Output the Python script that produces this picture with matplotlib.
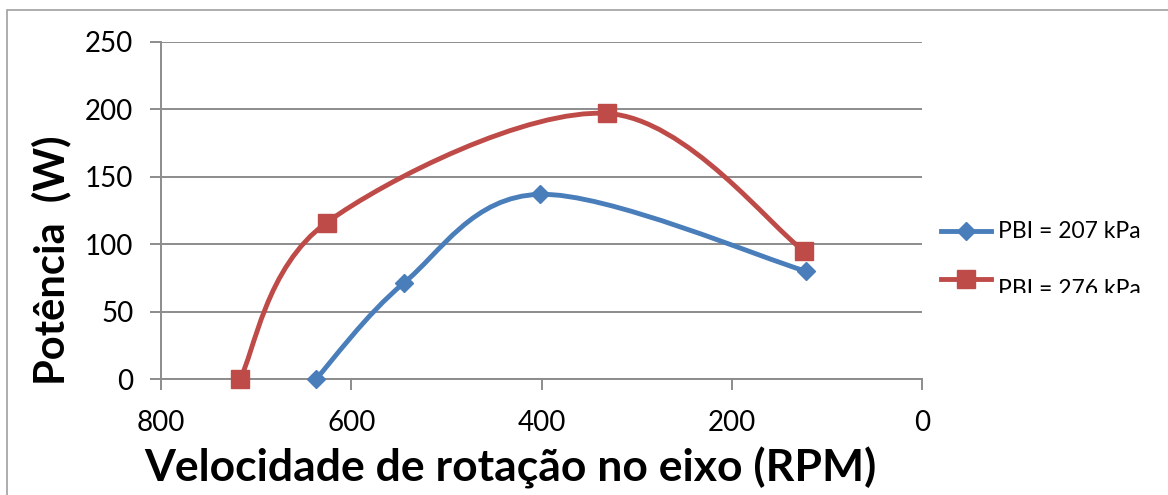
import matplotlib
matplotlib.use("Agg")
import matplotlib.pyplot as plt
import numpy as np
from matplotlib.lines import Line2D
from matplotlib.patches import PathPatch, Rectangle
from matplotlib.path import Path
from matplotlib.transforms import Bbox, TransformedBbox

# values
rpm_207 = [637, 545, 402, 122]
pow_207 = [0, 71, 137, 80]
rpm_276 = [717, 626, 331, 124]
pow_276 = [0, 116, 197, 95]

series_labels = ["PBI = 207 kPa", "PBI = 276 kPa"]
x_ticks = [800, 600, 400, 200, 0]
y_ticks = [0, 50, 100, 150, 200, 250]

BLUE = "#4a7ebb"
RED = "#be4b48"
GRID = "#8c8c8c"
FONT = "Lato"


def smooth_path(xs, ys):
    # Excel-like smoothed line: Catmull-Rom segments as cubic Beziers
    pts = np.column_stack([xs, ys]).astype(float)
    ext = np.vstack([pts[0], pts, pts[-1]])
    verts = [pts[0]]
    codes = [Path.MOVETO]
    for i in range(1, len(ext) - 2):
        p0, p1, p2, p3 = ext[i - 1], ext[i], ext[i + 1], ext[i + 2]
        verts += [p1 + (p2 - p0) / 6.0, p2 - (p3 - p1) / 6.0, p2]
        codes += [Path.CURVE4] * 3
    return Path(verts, codes)


def px(x, y):
    # reference pixel position -> figure fraction
    return x / 1168, 1 - y / 495


fig = plt.figure(figsize=(11.68, 4.95), dpi=100)
ax = fig.add_axes([161 / 1168, 1 - 379 / 495, (922 - 161) / 1168, (379 - 42) / 495])

# outer chart frame (cropped on the right and bottom)
fig.patches.append(Rectangle((7 / 1168, -0.1), 1.2, 1 - 10 / 495 + 0.1,
                             transform=fig.transFigure, fill=False,
                             edgecolor="#a0a0a0", linewidth=1.2))

styles = [(BLUE, "D", 9.5), (RED, "s", 13)]
for (xs, ys), (color, marker, ms) in zip([(rpm_207, pow_207), (rpm_276, pow_276)], styles):
    ax.add_patch(PathPatch(smooth_path(xs, ys), fill=False, edgecolor=color,
                           linewidth=3.5, capstyle="round", zorder=3))
    ax.plot(xs, ys, linestyle="none", marker=marker, markersize=ms,
            color=color, zorder=4, clip_on=False)

ax.set_xlim(800, 0)
ax.set_ylim(0, 250)
ax.set_xticks(x_ticks)
ax.set_yticks(y_ticks)
ax.yaxis.grid(True, color=GRID, linewidth=1.4)
ax.set_axisbelow(True)
for side in ["top", "right"]:
    ax.spines[side].set_visible(False)
for side in ["left", "bottom"]:
    ax.spines[side].set_color(GRID)
    ax.spines[side].set_linewidth(1.4)
ax.tick_params(axis="both", colors=GRID, width=1.4, length=8)
ax.tick_params(axis="x", labelsize=20, pad=14, labelcolor="black")
ax.tick_params(axis="y", labelsize=20, pad=12, labelcolor="black")
for lab in ax.get_xticklabels() + ax.get_yticklabels():
    lab.set_fontfamily(FONT)

fig.text(*px(510, 468), "Velocidade de rotação no eixo (RPM)",
         ha="center", va="center", fontsize=32, fontweight="bold", family=FONT)
fig.text(*px(51, 260), "Potência  (W)", rotation=90,
         ha="center", va="center", fontsize=30, fontweight="bold", family=FONT)

# legend drawn by hand: the reference cuts the second label off at the bottom
clip = TransformedBbox(Bbox.from_extents(0, (495 - 293) / 100, 11.68, 4.95),
                       fig.dpi_scale_trans)
for (color, marker, ms), label, y_line, y_text in zip(
        styles, series_labels, [231, 279], [232, 289]):
    x0, y0 = px(941, y_line)
    x1, _ = px(991, y_line)
    fig.add_artist(Line2D([x0, x1], [y0, y0], color=color, linewidth=3.5,
                          transform=fig.transFigure))
    fig.add_artist(Line2D([(x0 + x1) / 2], [y0], color=color, marker=marker,
                          markersize=ms, linestyle="none",
                          transform=fig.transFigure))
    t = fig.text(*px(998, y_text), label, ha="left", va="center",
                 fontsize=16.5, family=FONT)
    t.set_clip_box(clip)
    t.set_clip_on(True)

fig.savefig("out.png", dpi=100)
